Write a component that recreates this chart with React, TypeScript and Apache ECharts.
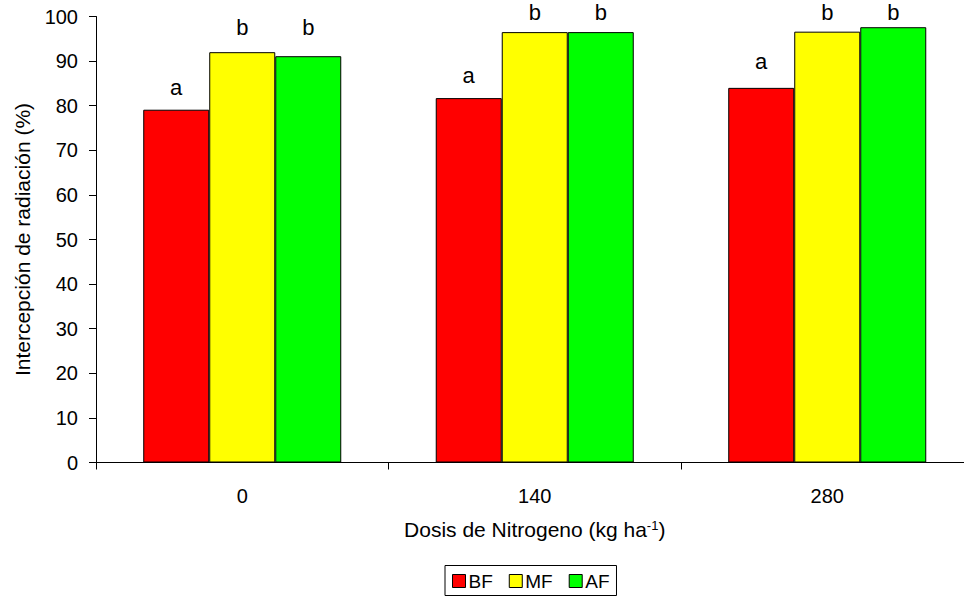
import React, { useEffect, useRef } from "react";
import * as echarts from "echarts";

const categories = ["0", "140", "280"];
const seriesNames = ["BF", "MF", "AF"];
const valuesBF = [79.1, 81.7, 84.0];
const valuesMF = [92.0, 96.5, 96.6];
const valuesAF = [91.1, 96.5, 97.6];
const lettersBF = ["a", "a", "a"];
const lettersMF = ["b", "b", "b"];
const lettersAF = ["b", "b", "b"];
const colors = ["#FF0000", "#FFFF00", "#00FF00"];
// label gap above each bar (style only)
const gapBF = [14, 14, 18];
const gapMF = [16, 11, 11];
const gapAF = [20, 11, 6];

const FONT = "Arial, 'Liberation Sans', sans-serif";

export default function App() {
  const ref = useRef<HTMLDivElement>(null);
  useEffect(() => {
    if (!ref.current) return;
    const chart = echarts.init(ref.current, undefined, { renderer: "svg" });
    const values = [valuesBF, valuesMF, valuesAF];
    const letters = [lettersBF, lettersMF, lettersAF];
    const gaps = [gapBF, gapMF, gapAF];
    chart.setOption({
      animation: false,
      textStyle: { fontFamily: FONT, color: "#000" },
      grid: {
        left: 96,
        right: -9.5,
        top: 16.5,
        bottom: 133.5,
        containLabel: false,
        outerBoundsMode: "none",
      },
      legend: {
        data: seriesNames,
        top: 565.5,
        left: 445,
        borderColor: "#000",
        borderWidth: 1,
        padding: [6, 7, 5, 7],
        itemGap: 16,
        itemWidth: 13,
        itemHeight: 13,
        icon: "rect",
        itemStyle: { borderColor: "#000", borderWidth: 1 },
        textStyle: { fontFamily: FONT, fontSize: 19, color: "#000", padding: [0, 0, 0, -2] },
      },
      xAxis: {
        type: "category",
        data: categories,
        axisLine: { lineStyle: { color: "#000", width: 1 } },
        axisTick: { show: true, length: 7, alignWithLabel: false, lineStyle: { color: "#000" } },
        axisLabel: { margin: 23, fontSize: 20, color: "#000", fontFamily: FONT },
        name: "{n|Dosis de Nitrogeno (kg ha}{s|-1}{n|)}",
        nameLocation: "middle",
        nameGap: 56,
        nameTextStyle: {
          rich: {
            n: { fontSize: 21, fontFamily: FONT, color: "#000" },
            s: { fontSize: 13, fontFamily: FONT, color: "#000", verticalAlign: "top", padding: [0, 0, 9, 0] },
          },
        },
      },
      yAxis: {
        type: "value",
        min: 0,
        max: 100,
        interval: 10,
        axisLine: { show: true, lineStyle: { color: "#000", width: 1 } },
        axisTick: { show: true, length: 7, lineStyle: { color: "#000" } },
        splitLine: { show: false },
        axisLabel: { margin: 18, fontSize: 20, color: "#000", fontFamily: FONT },
        name: "Intercepción de radiación (%)",
        nameLocation: "middle",
        nameGap: 63,
        nameRotate: 90,
        nameTextStyle: { fontSize: 21, fontFamily: FONT, color: "#000" },
      },
      series: seriesNames.map((name, i) => ({
        name,
        type: "bar",
        data: values[i].map((v, j) => ({
          value: v,
          label: { distance: gaps[i][j] },
        })),
        barGap: "0%",
        barCategoryGap: "32.3%",
        itemStyle: { color: colors[i], borderColor: "#000", borderWidth: 1 },
        label: {
          show: true,
          position: "top",
          fontSize: 22,
          lineHeight: 17,
          fontFamily: FONT,
          color: "#000",
          formatter: (p: any) => letters[i][p.dataIndex],
        },
      })),
    });
    return () => chart.dispose();
  }, []);
  return <div ref={ref} style={{ width: 964, height: 596, position: "absolute", left: 0, top: 0 }} />;
}
